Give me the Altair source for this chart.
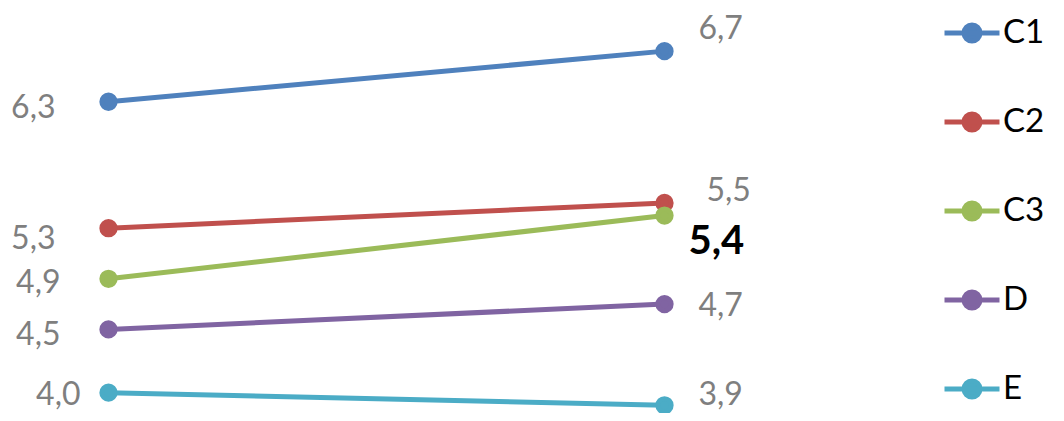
import altair as alt
import pandas as pd

series = ["C1", "C2", "C3", "D", "E"]
periods = ["Start", "End"]
start_vals = [6.3, 5.3, 4.9, 4.5, 4.0]
end_vals = [6.7, 5.5, 5.4, 4.7, 3.9]
colors = ["#4F81BD", "#C0504D", "#9BBB59", "#8064A2", "#4BACC6"]

# label placement offsets (style, not data)
left_dx = [-53, -53, -48, -48, -28]
left_dy = [6, 11, 4, 6, 2]
right_dx = [34, 42, 24, 34, 34]
right_dy = [-22, -12, 26, 2, -10]
bold_right = [False, False, True, False, False]

rows = []
for s, a, b in zip(series, start_vals, end_vals):
    rows.append({"series": s, "period": periods[0], "value": a, "label": f"{a:.1f}".replace(".", ",")})
    rows.append({"series": s, "period": periods[1], "value": b, "label": f"{b:.1f}".replace(".", ",")})
df = pd.DataFrame(rows)

FONT = "Lato"
GRAY = "#7F7F7F"

x_enc = alt.X("period:N", sort=periods, axis=None,
              scale=alt.Scale(type="point", range=[100.5, 656.5], padding=0))
y_enc = alt.Y("value:Q", axis=None,
              scale=alt.Scale(domain=[3.839, 7.041], nice=False, zero=False))
cscale = alt.Scale(domain=series, range=colors)

legend_path = ("M-1,0L1,0M0.29,0A0.29,0.29,0,1,1,-0.29,0"
               "A0.29,0.29,0,1,1,0.29,0Z")
legend = alt.Legend(
    title=None, orient="none", legendX=934, legendY=-5,
    symbolType=legend_path, symbolSize=3025, symbolStrokeWidth=5,
    labelFont=FONT, labelFontSize=33, labelColor="black",
    labelOffset=1, rowPadding=41, symbolOpacity=1,
)

lines = alt.Chart(df).mark_line(strokeWidth=5).encode(
    x=x_enc, y=y_enc,
    color=alt.Color("series:N", scale=cscale, legend=legend),
)

points = alt.Chart(df).mark_point(filled=True, size=177, strokeWidth=5, opacity=1).encode(
    x=x_enc, y=y_enc,
    color=alt.Color("series:N", scale=cscale, legend=legend),
    stroke=alt.Stroke("series:N", scale=cscale, legend=legend),
)

layers = [lines, points]
for i, s in enumerate(series):
    left = alt.Chart(df[(df.series == s) & (df.period == periods[0])]).mark_text(
        align="right", baseline="middle", dx=left_dx[i], dy=left_dy[i],
        font=FONT, fontSize=32, color=GRAY,
    ).encode(x=x_enc, y=y_enc, text="label:N")
    if bold_right[i]:
        rstyle = dict(font=FONT, fontSize=40, fontWeight="bold", color="black")
    else:
        rstyle = dict(font=FONT, fontSize=32, color=GRAY)
    right = alt.Chart(df[(df.series == s) & (df.period == periods[1])]).mark_text(
        align="left", baseline="middle", dx=right_dx[i], dy=right_dy[i], **rstyle
    ).encode(x=x_enc, y=y_enc, text="label:N")
    layers += [left, right]

chart = alt.layer(*layers).properties(
    width=1048, height=405,
    autosize=alt.AutoSizeParams(type="none"),
    padding=0,
).configure_view(stroke=None)

chart.save("out.html", embed_options={"renderer": "svg", "actions": False})
